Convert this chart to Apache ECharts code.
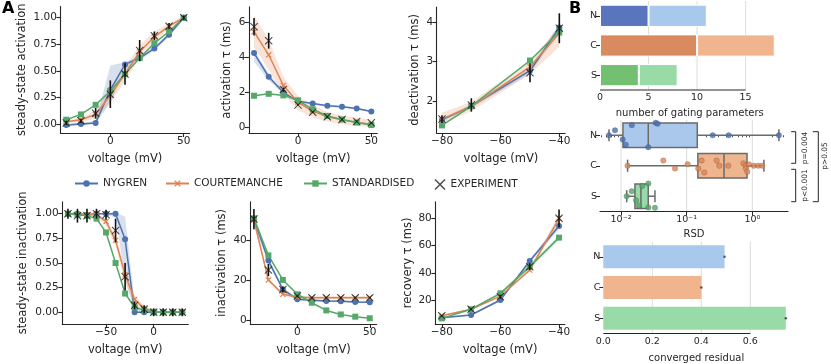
<!DOCTYPE html>
<html>
<head>
<meta charset="utf-8">
<script src="https://cdn.jsdelivr.net/npm/echarts@6/dist/echarts.min.js"></script>
<style>
html, body { margin: 0; background: #fff; }
#chart { width: 831px; height: 364px; }
</style>
</head>
<body>
<div id="chart"></div>
<script>
// ---- data ----
const vAct = [-30, -20, -10, 0, 10, 20, 30, 40, 50];
const vDeact = [-80, -70, -50, -40];
const vInact = [-90, -80, -70, -60, -50, -40, -30, -20, -10, 0, 10, 20, 30];
const vRec = [-80, -70, -60, -50, -40];

// steady-state activation
const actNyg = [-0.01, 0.0, 0.01, 0.32, 0.56, 0.62, 0.71, 0.84, 1.0];
const actNygLo = [-0.02, -0.01, 0.0, 0.2, 0.5, 0.6, 0.69, 0.82, 0.99];
const actNygHi = [0.0, 0.01, 0.03, 0.55, 0.58, 0.64, 0.73, 0.86, 1.01];
const actCour = [0.02, 0.04, 0.09, 0.27, 0.47, 0.68, 0.82, 0.92, 1.0];
const actCourLo = [0.01, 0.02, 0.05, 0.2, 0.4, 0.62, 0.77, 0.89, 0.99];
const actCourHi = [0.03, 0.06, 0.13, 0.34, 0.54, 0.74, 0.87, 0.95, 1.01];
const actStd = [0.04, 0.09, 0.18, 0.31, 0.47, 0.62, 0.76, 0.87, 1.0];
const actExp = [0.01, 0.03, 0.10, 0.28, 0.47, 0.69, 0.83, 0.92, 1.0];
const actExpErr = [0.02, 0.02, 0.05, 0.13, 0.1, 0.1, 0.04, 0.03, 0.02];

// activation tau
const tauActNyg = [4.25, 2.9, 2.0, 1.5, 1.38, 1.25, 1.2, 1.1, 0.92];
const tauActNygLo = [3.75, 2.7, 1.9, 1.45, 1.33, 1.2, 1.15, 1.05, 0.87];
const tauActNygHi = [4.45, 3.05, 2.1, 1.55, 1.43, 1.3, 1.25, 1.15, 0.97];
const tauActCour = [5.45, 4.15, 2.4, 1.45, 0.95, 0.62, 0.45, 0.3, 0.2];
const tauActCourLo = [4.6, 3.3, 1.9, 1.0, 0.6, 0.35, 0.2, 0.1, 0.05];
const tauActCourHi = [6.4, 5.0, 2.9, 1.8, 1.3, 0.9, 0.7, 0.55, 0.45];
const tauActStd = [1.82, 1.93, 1.84, 1.56, 1.05, 0.67, 0.47, 0.3, 0.15];
const tauActExp = [5.75, 4.95, 2.17, 1.3, 0.88, 0.62, 0.47, 0.36, 0.28];
const tauActExpErr = [0.5, 0.45, 0.12, 0.05, 0.05, 0.05, 0.04, 0.04, 0.04];

// deactivation tau
const tauDeNyg = [1.52, 1.87, 2.77, 3.87];
const tauDeNygLo = [1.48, 1.82, 2.7, 3.75];
const tauDeNygHi = [1.56, 1.92, 2.84, 3.97];
const tauDeCour = [1.54, 1.86, 2.87, 3.72];
const tauDeCourLo = [1.42, 1.74, 2.68, 3.38];
const tauDeCourHi = [1.7, 1.98, 3.02, 3.9];
const tauDeStd = [1.38, 1.87, 3.03, 3.76];
const tauDeExp = [1.54, 1.9, 2.72, 3.85];
const tauDeExpErr = [0.1, 0.17, 0.24, 0.38];

// steady-state inactivation
const inaNyg = [1.0, 1.0, 0.99, 1.0, 1.0, 1.0, 0.74, 0.0, 0.0, 0.0, 0.0, 0.0, 0.0];
const inaNygLo = [0.99, 0.99, 0.98, 0.99, 0.99, 0.96, 0.35, -0.01, -0.01, -0.01, -0.01, -0.01, -0.01];
const inaNygHi = [1.01, 1.01, 1.0, 1.01, 1.01, 1.01, 0.97, 0.1, 0.01, 0.01, 0.01, 0.01, 0.01];
const inaCour = [1.0, 0.99, 0.99, 0.99, 0.92, 0.73, 0.38, 0.13, 0.04, 0.01, 0.0, 0.0, 0.0];
const inaCourLo = [0.99, 0.98, 0.98, 0.97, 0.88, 0.67, 0.3, 0.08, 0.02, 0.0, -0.01, -0.01, -0.01];
const inaCourHi = [1.01, 1.0, 1.0, 1.0, 0.95, 0.78, 0.45, 0.17, 0.06, 0.02, 0.01, 0.01, 0.01];
const inaStd = [1.0, 0.99, 0.98, 0.95, 0.81, 0.5, 0.19, 0.05, 0.02, 0.0, 0.0, 0.0, 0.0];
const inaExp = [1.0, 0.98, 0.98, 1.0, 0.99, 0.83, 0.36, 0.07, 0.03, 0.0, 0.0, 0.0, 0.0];
const inaExpErr = [0.05, 0.07, 0.07, 0.05, 0.05, 0.12, 0.14, 0.04, 0.04, 0.04, 0.04, 0.04, 0.04];

// inactivation tau
const tauInNyg = [50.4, 29.8, 15.5, 10.6, 10.1, 9.8, 9.6, 9.3, 9.1];
const tauInNygLo = [47.4, 28.3, 14.5, 10.1, 9.6, 9.3, 9.1, 8.8, 8.6];
const tauInNygHi = [53.4, 31.3, 16.5, 11.1, 10.6, 10.3, 10.1, 9.8, 9.6];
const tauInCour = [49.9, 20.2, 13.1, 11.7, 11.4, 11.4, 11.4, 11.4, 11.4];
const tauInCourLo = [47.9, 19.2, 12.3, 10.9, 10.6, 10.6, 10.6, 10.6, 10.6];
const tauInCourHi = [51.9, 21.2, 13.9, 12.5, 12.2, 12.2, 12.2, 12.2, 12.2];
const tauInStd = [50.7, 32.4, 20.2, 13.1, 8.9, 5.1, 3.1, 2.0, 1.2];
const tauInExp = [50.4, 25.1, 15.5, 12.2, 11.4, 11.4, 11.4, 11.4, 11.4];
const tauInExpErr = [5, 3, 1.5, 0.5, 0.4, 0.4, 0.4, 0.4, 0.4];

// recovery tau
const recNyg = [7.0, 9.0, 20, 48.7, 74.4];
const recNygLo = [6.5, 8.5, 19, 47, 72];
const recNygHi = [7.5, 9.5, 21, 50, 77];
const recCour = [8.5, 13.2, 22.9, 42, 80];
const recCourLo = [8, 12.7, 22, 40.5, 77];
const recCourHi = [9, 13.7, 23.8, 43.5, 83];
const recStd = [6.5, 13.2, 24.9, 44.5, 65.8];
const recStdLo = [6, 12.7, 24, 43, 64];
const recStdHi = [7, 13.7, 25.8, 46, 67.6];
const recExp = [8.5, 13.2, 22.4, 44.5, 80];
const recExpErr = [0.5, 0.8, 1.5, 2.5, 6.5];

// panel B
const models = ['N', 'C', 'S'];
const gatingA = [5, 10, 4];
const gatingB = [6, 8, 4];
const rsdN = [0.00656, 0.0081, 0.0106, 0.0118, 0.0146, 0.026, 0.0337, 0.0362, 0.249, 0.436, 2.54];
const rsdNJit = [0, -0.16, 0.14, 0.31, -0.33, 0.39, -0.41, -0.38, 0, 0, 0];
const rsdC = [0.0126, 0.0441, 0.0664, 0.1034, 0.150, 0.169, 0.1855, 0.286, 0.314, 0.430, 0.728, 0.790, 0.80, 0.838, 0.888, 1.057, 1.231, 1.416];
const rsdCJit = [0, -0.17, 0.09, -0.05, 0.09, -0.17, 0.22, -0.17, 0, 0, -0.08, 0, 0.09, 0.2, -0.04, 0, 0, 0];
const rsdS = [0.0122, 0.01454, 0.01692, 0.0188, 0.0211, 0.0261, 0.0261, 0.0329];
const rsdSJit = [0, -0.16, 0.13, 0.3, -0.34, -0.42, 0.37, 0.38];
const rsdBoxN = [0.00656, 0.0107, 0.026, 0.145, 2.54];
const rsdBoxC = [0.0126, 0.148, 0.37, 0.83, 1.5];
const rsdBoxS = [0.0122, 0.0163, 0.0201, 0.026, 0.0329];
const residual = [0.495, 0.40, 0.745];

// ---- styling ----
const FONT = 'DejaVu Sans';
const INK = '#262626';
const BLUE = '#4c72b0', ORANGE = '#dd8452', GREEN = '#55a868';
const BLUE_A = 'rgba(76,114,176,0.22)', ORANGE_A = 'rgba(221,132,82,0.22)', GREEN_A = 'rgba(85,168,104,0.22)';
const darkBar = ['#5975be', '#d98a5e', '#74c072'];
const lightBar = ['#a8c8ec', '#f0b48f', '#98dba7'];
const boxFill = ['#a9c8ec', '#efb58e', '#98dba7'];
const dotCol = ['#4a6fb5', '#dd8452', '#55a868'];
const XPATH = 'path://M0,0.9 L0.9,0 L5,4.1 L9.1,0 L10,0.9 L5.9,5 L10,9.1 L9.1,10 L5,5.9 L0.9,10 L0,9.1 L4.1,5 Z';
const xPATH = 'path://M0,1.4 L1.4,0 L5,3.6 L8.6,0 L10,1.4 L6.4,5 L10,8.6 L8.6,10 L5,6.4 L1.4,10 L0,8.6 L3.6,5 Z';

const fmtMinus = v => String(v).replace('-', '\u2212');
const SUP = { '-': '\u207b', '0': '\u2070', '1': '\u00b9', '2': '\u00b2' };
const fmtPow = v => '10' + String(Math.round(Math.log10(v))).split('').map(c => SUP[c]).join('');

const chart = echarts.init(document.getElementById('chart'));

const grids = [], xAxes = [], yAxes = [], series = [];
const txt = (size) => ({ color: INK, fontSize: size, fontFamily: FONT });

const panels = [
  { box: [60.4, 6.5, 129.2, 126.5], x: [-34, 54], y: [-0.085, 1.105], xt: [0, 50], yt: [0, 0.25, 0.5, 0.75, 1], yf: v => v.toFixed(2),
    name: 'steady-state activation', gap: 32, v: vAct, nyg: actNyg, cour: actCour, std: actStd, exp: actExp, err: actExpErr,
    bands: [[actNygLo, actNygHi, BLUE_A], [actCourLo, actCourHi, ORANGE_A]] },
  { box: [248.9, 6.9, 128.3, 126.1], x: [-33.5, 54], y: [-0.3, 6.875], xt: [0, 50], yt: [0, 2, 4, 6], yf: v => String(v),
    name: 'activation \u03c4 (ms)', gap: 16, v: vAct, nyg: tauActNyg, cour: tauActCour, std: tauActStd, exp: tauActExp, err: tauActExpErr,
    bands: [[tauActNygLo, tauActNygHi, BLUE_A], [tauActCourLo, tauActCourHi, ORANGE_A]] },
  { box: [436.7, 7, 128.5, 126], x: [-81.8, -38], y: [1.187, 4.39], xt: [-80, -60, -40], yt: [2, 3, 4], yf: v => String(v),
    name: 'deactivation \u03c4 (ms)', gap: 16, v: vDeact, nyg: tauDeNyg, cour: tauDeCour, std: tauDeStd, exp: tauDeExp, err: tauDeExpErr,
    bands: [[tauDeNygLo, tauDeNygHi, BLUE_A], [tauDeCourLo, tauDeCourHi, ORANGE_A]] },
  { box: [62.2, 201.9, 126.1, 122], x: [-96, 36.3], y: [-0.118, 1.12], xt: [-50, 0], yt: [0, 0.25, 0.5, 0.75, 1], yf: v => v.toFixed(2),
    name: 'steady-state inactivation', gap: 33, v: vInact, nyg: inaNyg, cour: inaCour, std: inaStd, exp: inaExp, err: inaExpErr,
    bands: [[inaNygLo, inaNygHi, BLUE_A], [inaCourLo, inaCourHi, ORANGE_A]] },
  { box: [250.3, 201.7, 126.4, 122.3], x: [-32.5, 54.8], y: [-1.64, 59], xt: [0, 50], yt: [0, 20, 40], yf: v => String(v),
    name: 'inactivation \u03c4 (ms)', gap: 22, v: vAct, nyg: tauInNyg, cour: tauInCour, std: tauInStd, exp: tauInExp, err: tauInExpErr,
    bands: [[tauInNygLo, tauInNygHi, BLUE_A], [tauInCourLo, tauInCourHi, ORANGE_A]] },
  { box: [435.3, 201.7, 129.6, 122.3], x: [-82.2, -38], y: [2.38, 92.2], xt: [-80, -60, -40], yt: [20, 40, 60, 80], yf: v => String(v),
    name: 'recovery \u03c4 (ms)', gap: 21, v: vRec, nyg: recNyg, cour: recCour, std: recStd, exp: recExp, err: recExpErr,
    bands: [[recNygLo, recNygHi, BLUE_A], [recCourLo, recCourHi, ORANGE_A], [recStdLo, recStdHi, GREEN_A]] }
];

panels.forEach((p, i) => {
  grids.push({ left: p.box[0], top: p.box[1], width: p.box[2], height: p.box[3] });
  xAxes.push({
    gridIndex: i, type: 'value', min: p.x[0], max: p.x[1], splitLine: { show: false },
    axisLine: { onZero: false, lineStyle: { color: INK, width: 1.1 } },
    axisTick: { customValues: p.xt, length: 4, lineStyle: { color: INK, width: 1.1 } },
    axisLabel: Object.assign({ customValues: p.xt, formatter: fmtMinus, margin: 3 }, txt(10.5)),
    name: 'voltage (mV)', nameLocation: 'middle', nameGap: 20, nameTextStyle: txt(11.5)
  });
  yAxes.push({
    gridIndex: i, type: 'value', min: p.y[0], max: p.y[1], splitLine: { show: false },
    axisLine: { onZero: false, lineStyle: { color: INK, width: 1.1 } },
    axisTick: { customValues: p.yt, length: 4, lineStyle: { color: INK, width: 1.1 } },
    axisLabel: Object.assign({ customValues: p.yt, formatter: p.yf, margin: 3.5 }, txt(10.5)),
    name: p.name, nameLocation: 'middle', nameGap: p.gap, nameTextStyle: txt(11.5)
  });
  p.bands.forEach(([lo, hi, col]) => {
    series.push({
      type: 'custom', xAxisIndex: i, yAxisIndex: i, silent: true, z: 1, data: [[p.v[0], lo[0]]], encode: { x: 0, y: 1 },
      renderItem: (params, api) => {
        const top = p.v.map((x, k) => api.coord([x, hi[k]]));
        const bot = p.v.map((x, k) => api.coord([x, lo[k]])).reverse();
        return { type: 'polygon', shape: { points: top.concat(bot) }, style: { fill: col } };
      }
    });
  });
  const line = (name, arr, col, sym, size) => ({
    type: 'line', name, xAxisIndex: i, yAxisIndex: i, z: 3,
    data: p.v.map((x, k) => [x, arr[k]]), symbol: sym, symbolSize: size, showSymbol: true,
    lineStyle: { color: col, width: 1.5 }, itemStyle: { color: col }
  });
  series.push(line('NYGREN', p.nyg, BLUE, 'circle', 6));
  series.push(line('COURTEMANCHE', p.cour, ORANGE, xPATH, 6));
  series.push(line('STANDARDISED', p.std, GREEN, 'rect', 6));
  series.push({
    type: 'custom', xAxisIndex: i, yAxisIndex: i, silent: true, z: 4,
    data: p.exp.map((y, k) => [p.v[k], y - p.err[k], y + p.err[k]]), encode: { x: 0, y: [1, 2] },
    renderItem: (params, api) => {
      const a = api.coord([api.value(0), api.value(1)]);
      const b = api.coord([api.value(0), api.value(2)]);
      return { type: 'line', shape: { x1: a[0], y1: a[1], x2: b[0], y2: b[1] }, style: { stroke: '#111', lineWidth: 1.6 } };
    }
  });
  series.push({
    type: 'scatter', name: 'EXPERIMENT', xAxisIndex: i, yAxisIndex: i, z: 5,
    data: p.exp.map((y, k) => [p.v[k], y]), symbol: XPATH, symbolSize: 8, itemStyle: { color: '#1a1a1a' }
  });
});

// ---- panel B helpers ----
const vlines = (xi, yi, vals) => ({
  type: 'custom', xAxisIndex: xi, yAxisIndex: yi, silent: true, z: 0,
  data: vals.map(v => [v, 0]), encode: { x: 0, y: 1 },
  renderItem: (params, api) => {
    const cs = params.coordSys;
    const x = api.coord([api.value(0), 0])[0];
    return { type: 'line', shape: { x1: x, y1: cs.y, x2: x, y2: cs.y + cs.height }, style: { stroke: '#dcdcdc', lineWidth: 1 } };
  }
});
const spine = (xi, yi, a, b) => ({
  type: 'custom', xAxisIndex: xi, yAxisIndex: yi, silent: true, z: 6,
  data: [[a, 0]], encode: { x: 0, y: 1 },
  renderItem: (params, api) => {
    const cs = params.coordSys;
    const y = cs.y + cs.height;
    return { type: 'line', shape: { x1: api.coord([a, 0])[0], y1: y, x2: api.coord([b, 0])[0], y2: y }, style: { stroke: INK, lineWidth: 1.1 } };
  }
});
const catAxis = (g) => ({
  gridIndex: g, type: 'category', data: models, inverse: true,
  axisLine: { show: false },
  axisTick: { show: true, alignWithLabel: true, length: 4, lineStyle: { color: INK, width: 1 } },
  axisLabel: Object.assign({ margin: 3 }, txt(9.5))
});

// B1: number of gating parameters (grid 6, axes 6)
grids.push({ left: 600, top: 1, width: 179.6, height: 89 });
xAxes.push({
  gridIndex: 6, type: 'value', min: 0, max: 18.5, splitLine: { show: false }, axisLine: { show: false },
  axisTick: { customValues: [0, 5, 10, 15], length: 4, lineStyle: { color: INK, width: 1 } },
  axisLabel: Object.assign({ customValues: [0, 5, 10, 15], margin: 3 }, txt(9.5)),
  name: 'number of gating parameters', nameLocation: 'middle', nameGap: 18, nameTextStyle: txt(10)
});
yAxes.push(catAxis(6));
series.push(vlines(6, 6, [5, 10, 15]));
series.push(spine(6, 6, 0, 15));
series.push({
  type: 'bar', stack: 'g', xAxisIndex: 6, yAxisIndex: 6, barCategoryGap: '25%', z: 2,
  data: gatingA.map((v, k) => ({ value: v, itemStyle: { color: darkBar[k], borderColor: '#fff', borderWidth: 1 } }))
});
series.push({
  type: 'bar', stack: 'g', xAxisIndex: 6, yAxisIndex: 6, barCategoryGap: '25%', z: 2,
  data: gatingB.map((v, k) => ({ value: v, itemStyle: { color: lightBar[k], borderColor: '#fff', borderWidth: 1 } }))
});

// B2: RSD (grid 7, x axes 7 & 8, y axes 7 & 8)
const logMin = Math.pow(10, -2.32), logMax = Math.pow(10, 0.543);
const minorTicks = [];
[0.001, 0.01, 0.1, 1].forEach(d => { for (let m = 2; m <= 9; m++) minorTicks.push(+(d * m).toPrecision(3)); });
grids.push({ left: 600, top: 120, width: 188, height: 91.5 });
xAxes.push({
  gridIndex: 7, type: 'log', min: logMin, max: logMax, position: 'bottom', splitLine: { show: false },
  axisLine: { onZero: false, lineStyle: { color: INK, width: 1.1 } },
  axisTick: { customValues: [0.01, 0.1, 1], length: 4, lineStyle: { color: INK, width: 1 } },
  axisLabel: Object.assign({ customValues: [0.01, 0.1, 1], formatter: fmtPow, margin: 3 }, txt(9.5)),
  name: 'RSD', nameLocation: 'middle', nameGap: 18, nameTextStyle: txt(10)
});
xAxes.push({
  gridIndex: 7, type: 'log', min: logMin, max: logMax, position: 'bottom', offset: 0, splitLine: { show: false },
  axisLine: { show: false }, axisLabel: { show: false },
  axisTick: { customValues: minorTicks.filter(v => v > logMin && v < logMax), length: 2, lineStyle: { color: INK, width: 0.8 } }
});
yAxes.push(catAxis(7));
yAxes.push({ gridIndex: 7, type: 'value', min: -0.5, max: 2.5, inverse: true, show: false });
series.push(vlines(7, 7, [0.01, 0.1, 1]));
series.push({
  type: 'custom', xAxisIndex: 7, yAxisIndex: 7, silent: true, z: 2,
  data: [[0].concat(rsdBoxN), [1].concat(rsdBoxC), [2].concat(rsdBoxS)], encode: { x: [1, 2, 3, 4, 5], y: 0 },
  renderItem: (params, api) => {
    const c = api.value(0);
    const xs = [1, 2, 3, 4, 5].map(k => api.coord([api.value(k), c])[0]);
    const y = api.coord([api.value(3), c])[1];
    const h = params.coordSys.height / 3 * 0.8;
    const st = { stroke: '#6b6b6b', lineWidth: 1.5 };
    return { type: 'group', children: [
      { type: 'line', shape: { x1: xs[0], y1: y, x2: xs[1], y2: y }, style: st },
      { type: 'line', shape: { x1: xs[3], y1: y, x2: xs[4], y2: y }, style: st },
      { type: 'line', shape: { x1: xs[0], y1: y - h / 4, x2: xs[0], y2: y + h / 4 }, style: st },
      { type: 'line', shape: { x1: xs[4], y1: y - h / 4, x2: xs[4], y2: y + h / 4 }, style: st },
      { type: 'rect', shape: { x: xs[1], y: y - h / 2, width: xs[3] - xs[1], height: h }, style: { fill: boxFill[c], stroke: '#6b6b6b', lineWidth: 1.5 } },
      { type: 'line', shape: { x1: xs[2], y1: y - h / 2, x2: xs[2], y2: y + h / 2 }, style: st }
    ] };
  }
});
[[rsdN, rsdNJit], [rsdC, rsdCJit], [rsdS, rsdSJit]].forEach(([vals, jit], c) => {
  series.push({
    type: 'scatter', xAxisIndex: 7, yAxisIndex: 8, z: 4, symbolSize: 5.5,
    data: vals.map((v, k) => [v, c + jit[k]]),
    itemStyle: { color: dotCol[c], borderColor: 'rgba(60,60,60,0.5)', borderWidth: 0.5 }
  });
});

// B3: converged residual (grid 8, x axis 9, y axis 9)
grids.push({ left: 603.3, top: 241.5, width: 186.2, height: 93 });
xAxes.push({
  gridIndex: 8, type: 'value', min: 0, max: 0.76, splitLine: { show: false }, axisLine: { show: false },
  axisTick: { customValues: [0, 0.2, 0.4, 0.6], length: 4, lineStyle: { color: INK, width: 1 } },
  axisLabel: Object.assign({ customValues: [0, 0.2, 0.4, 0.6], formatter: v => v.toFixed(1), margin: 3 }, txt(9.5)),
  name: 'converged residual', nameLocation: 'middle', nameGap: 19.5, nameTextStyle: txt(10)
});
yAxes.push(catAxis(8));
series.push(vlines(9, 9, [0.2, 0.4, 0.6]));
series.push(spine(9, 9, 0, 0.6));
series.push({
  type: 'bar', xAxisIndex: 9, yAxisIndex: 9, barCategoryGap: '25%', z: 2,
  data: residual.map((v, k) => ({ value: v, itemStyle: { color: lightBar[k] } }))
});
series.push({
  type: 'scatter', xAxisIndex: 9, yAxisIndex: 9, z: 4, symbolSize: 2.5,
  data: residual.map((v, k) => [v, k]), itemStyle: { color: '#333' }
});

// legend items placed one by one
const legendBase = { orient: 'horizontal', padding: 0, top: 178, itemWidth: 23, itemHeight: 8, textStyle: txt(10.5), selectedMode: false };
const legends = [
  Object.assign({}, legendBase, { left: 74, data: ['NYGREN'] }),
  Object.assign({}, legendBase, { left: 165, data: ['COURTEMANCHE'] }),
  Object.assign({}, legendBase, { left: 303, data: ['STANDARDISED'] }),
  Object.assign({}, legendBase, { left: 434.5, top: 179, itemWidth: 11, itemHeight: 11, data: ['EXPERIMENT'] })
];

// significance brackets beside the RSD panel
const bracket = (x, y1, y2, w) => ({ type: 'polyline', shape: { points: [[x - w, y1], [x, y1], [x, y2], [x - w, y2]] }, style: { stroke: INK, lineWidth: 1, fill: null } });
const vText = (x, y, s) => ({ type: 'text', x, y, rotation: Math.PI / 2, style: { text: s, align: 'center', verticalAlign: 'middle', fill: INK, font: '7.5px "DejaVu Sans"' } });

chart.setOption({
  animation: false,
  backgroundColor: '#fff',
  grid: grids,
  xAxis: xAxes,
  yAxis: yAxes,
  legend: legends,
  series: series,
  graphic: [
    { type: 'text', left: 2, top: 1, style: { text: 'A', fill: '#000', font: 'bold 16px "DejaVu Sans"' } },
    { type: 'text', left: 569, top: 1, style: { text: 'B', fill: '#000', font: 'bold 16px "DejaVu Sans"' } },
    bracket(795.7, 131.7, 163.3, 4.5),
    bracket(795.7, 169.3, 201.7, 4.5),
    bracket(818.3, 131.7, 201.7, 5.5),
    vText(805, 148, 'p=0.004'),
    vText(805, 185.5, 'p<0.001'),
    vText(825.5, 156, 'p>0.05')
  ]
});
</script>
</body>
</html>
